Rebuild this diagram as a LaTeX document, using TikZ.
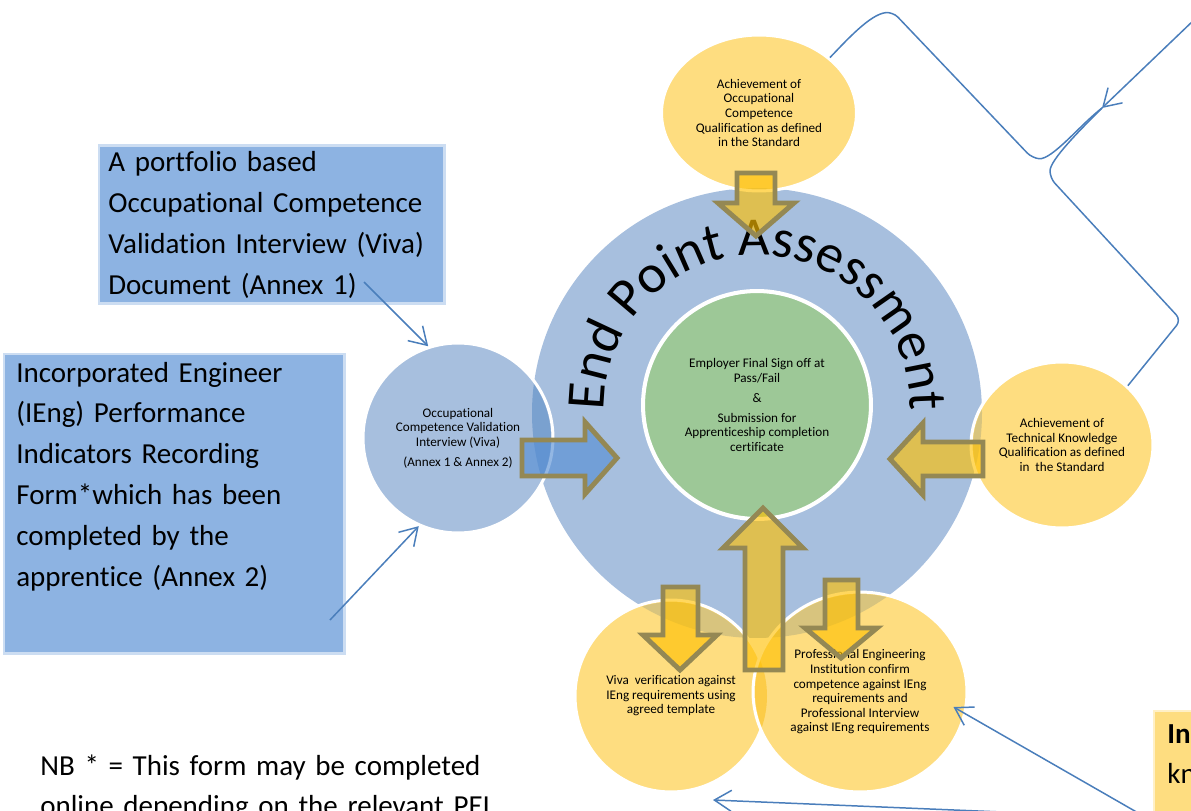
\documentclass[tikz,border=0pt]{standalone}
\usepackage{fontspec}
\setmainfont{Carlito}[RawFeature={-liga;-clig;-calt}]
\usetikzlibrary{shapes.geometric,arrows.meta,decorations.text}

\definecolor{epablue}{RGB}{167,191,222}
\definecolor{epablueov}{RGB}{122,161,207}
\definecolor{signgreen}{RGB}{157,200,151}
\definecolor{qualyellow}{RGB}{254,221,128}
\definecolor{qualyellowov}{RGB}{216,196,126}
\definecolor{pairyellowov}{RGB}{252,204,72}
\definecolor{notebox}{RGB}{141,179,226}
\definecolor{arrowgold}{RGB}{255,192,0}
\definecolor{arrowblue}{RGB}{84,141,212}
\definecolor{arrowrim}{RGB}{148,136,84}
\definecolor{linkblue}{RGB}{74,126,187}

\tikzset{
  bubble/.style={ellipse, draw=white, line width=1.7pt, inner sep=0pt, align=center, font=\fontsize{7.5}{8.3}\selectfont},
  blockarrow/.style={draw=arrowrim, line width=2.8pt, fill=arrowgold, fill opacity=0.63, line join=miter},
  bigtext/.style={anchor=base west, inner sep=0pt, align=left, font=\fontsize{16.5}{23.3}\selectfont},
  softbox/.style={fill=#1, draw=#1, draw opacity=0.45, line width=0.1cm},
  link/.style={draw=linkblue, line width=0.85pt},
}

\begin{document}
\begin{tikzpicture}[x=0.02cm, y=-0.02cm]
\useasboundingbox (0,0) rectangle (1191,811);

% end point assessment ring
\node[circle, fill=epablue, minimum size=9cm, inner sep=0pt] (epa) at (757,413) {};
\node[bubble, circle, fill=signgreen, line width=2.3pt, minimum size=4.56cm] (signoff) at (757,405)
  {Employer Final Sign off at\\Pass/Fail\\[3pt]\&\\[3pt]Submission for\\Apprenticeship completion\\certificate};
\path[decorate, decoration={text along path, text align=center,
  text={|\fontsize{31}{31}\selectfont|End Point Assessment}}]
  (606.32,434.57) arc[start angle=170, end angle=370, radius=153];

% the feeding bubbles
\node[bubble, fill=qualyellow, minimum width=3.9cm, minimum height=3.12cm] (occqual) at (759,113)
  {Achievement of\\Occupational\\Competence\\Qualification as defined\\in the Standard};
\node[bubble, circle, fill=epablue, minimum size=3.8cm] (viva) at (458,438)
  {Occupational\\Competence Validation\\Interview (Viva)\\[3pt](Annex 1 \& Annex 2)};
\node[bubble, fill=qualyellow, minimum width=3.64cm, minimum height=3.32cm] (techqual) at (1062,445)
  {Achievement of\\Technical Knowledge\\Qualification as defined\\in\ \ the Standard};
\node[bubble, circle, fill=qualyellow, minimum size=3.84cm] (vivacheck) at (671,696)
  {Viva\ \ verification against\\IEng requirements using\\agreed template};
\node[bubble, fill=qualyellow, minimum width=4.28cm, minimum height=4cm] (peicheck) at (860,692)
  {Professional Engineering\\Institution confirm\\competence against IEng\\requirements and\\Professional Interview\\against IEng requirements};

% overlaps
\begin{scope}
  \clip (757,413) circle[radius=225];
  \fill[epablueov] (458,438) circle[radius=93];
  \fill[qualyellowov] (759,113) ellipse[x radius=96, y radius=76];
  \fill[qualyellowov] (1062,445) ellipse[x radius=89, y radius=81];
  \fill[qualyellowov] (671,696) circle[radius=94];
  \fill[qualyellowov] (860,692) ellipse[x radius=105, y radius=98];
\end{scope}
\begin{scope}
  \clip (671,696) circle[radius=96];
  \fill[pairyellowov] (860,692) ellipse[x radius=105, y radius=98];
\end{scope}

% block arrows
\draw[blockarrow] (737,173) -- (775,173) -- (775,203) -- (794,203) -- (756,236) -- (718,203) -- (737,203) -- cycle;
\draw[blockarrow] (983,442) -- (923,442) -- (923,423) -- (890,459) -- (923,495) -- (923,476) -- (983,476) -- cycle;
\draw[blockarrow] (745,670) -- (745,548) -- (723,548) -- (763,508) -- (803,548) -- (783,548) -- (783,670) -- cycle;
\draw[blockarrow] (663,587) -- (698,587) -- (698,635) -- (717,635) -- (680,670) -- (643,635) -- (663,635) -- cycle;
\draw[blockarrow] (825,580) -- (858,580) -- (858,628) -- (877,628) -- (841,658) -- (805,628) -- (825,628) -- cycle;
\draw[blockarrow, fill=arrowblue] (522,440) -- (585,440) -- (585,422) -- (617,458) -- (585,494) -- (585,476) -- (522,476) -- cycle;

% notes
\path[softbox=notebox] (100,147) rectangle (443,302);
\node[bigtext, text width=6.8cm] (portfolio) at (108,172)
  {A portfolio based\\Occupational Competence\\Validation Interview (Viva)\\Document (Annex 1)};
\path[softbox=notebox] (5,355) rectangle (343,652);
\node[bigtext, text width=6.6cm] (pirform) at (16,382)
  {Incorporated Engineer\\(IEng) Performance\\Indicators Recording\\Form*which has been\\completed by the\\apprentice (Annex 2)};
\path[softbox=qualyellow] (1155,712) rectangle (1210,830);
\node[bigtext, text width=1cm] (knowbox) at (1167,743) {\textbf{In}\\kn};
\node[bigtext, text width=9cm] (nbnote) at (40,775)
  {NB * = This form may be completed\\online depending on the relevant PEI};

% connectors
\coordinate (fromportfolio) at (364,282);
\coordinate (fromform) at (330,620);
\coordinate (fromknow) at (1140,814);
\coordinate (frombottom) at (1195,820);
\coordinate (vivatip) at (713,800);
\coordinate (fromtopright) at (1195,19);
\coordinate (junction) at (1102,108);
\draw[link, ->, >={Straight Barb[length=0.34cm, width=0.42cm]}] (fromportfolio) -- (viva.108);
\draw[link, ->, >={Straight Barb[length=0.34cm, width=0.42cm]}] (fromform) -- (viva.246);
\draw[link, ->, >={Straight Barb[length=0.34cm, width=0.42cm]}] (fromknow) -- ([xshift=-0.3cm, yshift=-0.3cm]peicheck.east);
\draw[link, ->, >={Straight Barb[length=0.34cm, width=0.42cm]}] (frombottom) -- (vivatip);
\draw[link, rounded corners=4pt] (occqual.38) .. controls (845,42) and (870,14) .. (893,12) -- (1032,158) .. controls (1052,160) and (1080,125) .. (junction);
\draw[link, rounded corners=4pt] (techqual.42) -- (1181,320) -- (1050,178) .. controls (1050,160) and (1080,130) .. (junction);
\draw[link, ->, >={Straight Barb[length=0.34cm, width=0.42cm]}] (fromtopright) -- (junction);
\end{tikzpicture}
\end{document}
